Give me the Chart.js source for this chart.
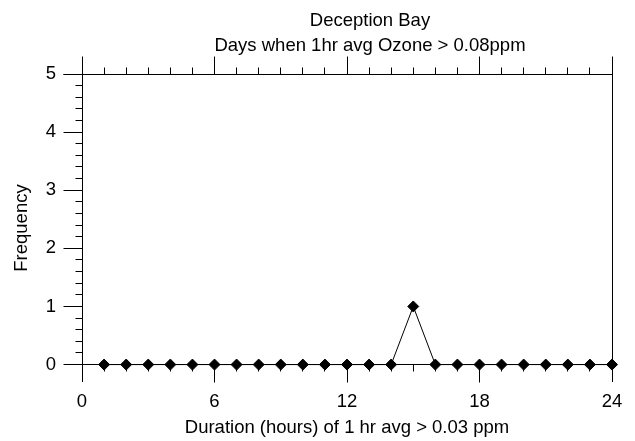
<!DOCTYPE html>
<html>
<head>
<meta charset="utf-8">
<script src="https://cdn.jsdelivr.net/npm/chart.js@4"></script>
<style>
  body { margin: 0; background: #fff; }
</style>
</head>
<body>
<canvas id="grafico" width="635" height="441"></canvas>
<script>
/* Datos */
var titulos = ['Deception Bay', 'Days when 1hr avg Ozone > 0.08ppm'];
var duracion = [1, 2, 3, 4, 5, 6, 7, 8, 9, 10, 11, 12, 13, 14, 15, 16, 17, 18, 19, 20, 21, 22, 23, 24];
var frecuencia = [0, 0, 0, 0, 0, 0, 0, 0, 0, 0, 0, 0, 0, 0, 1, 0, 0, 0, 0, 0, 0, 0, 0, 0];
var ticksX = [0, 6, 12, 18, 24];
var ticksY = [0, 1, 2, 3, 4, 5];

var fuente = '"Liberation Sans", Arial, sans-serif';
Chart.defaults.font.family = fuente;
Chart.defaults.font.size = 18.5;
Chart.defaults.color = '#000';

/* media linea para que las rayas de 1px salgan nitidas */
function px(v) { return Math.round(v - 0.5) + 0.5; }

/* Marco con las rayas de escala hacia afuera, el eje x va en y = 0 */
var marcoEjes = {
    id: 'marcoEjes',
    beforeDatasetsDraw: function (chart) {
        var ctx = chart.ctx;
        var a = chart.chartArea;
        var x = chart.scales.x;
        var y = chart.scales.y;
        var mayor = 18, menor = 7;
        var izq = px(a.left), der = px(a.right), arriba = px(a.top);
        var cero = px(y.getPixelForValue(0));

        ctx.save();
        ctx.strokeStyle = '#000';
        ctx.lineWidth = 1;
        ctx.beginPath();
        [izq, der].forEach(function (p) {
            ctx.moveTo(p, arriba - mayor);
            ctx.lineTo(p, a.bottom);
        });
        [arriba, cero].forEach(function (p) {
            ctx.moveTo(izq - mayor - 1, p);
            ctx.lineTo(der, p);
        });
        for (var v = 1; v < 24; v++) {
            var pxX = px(x.getPixelForValue(v));
            var largo = v % 6 === 0 ? mayor : menor;
            ctx.moveTo(pxX, arriba);
            ctx.lineTo(pxX, arriba - largo);
            ctx.moveTo(pxX, cero);
            ctx.lineTo(pxX, cero + largo);
        }
        for (var i = 1; i <= 25; i++) {
            var pxY = px(y.getPixelForValue(i / 5));
            var l = i % 5 === 0 ? mayor + 1 : menor;
            ctx.moveTo(izq, pxY);
            ctx.lineTo(izq - l, pxY);
        }
        ctx.stroke();
        ctx.restore();
    }
};

/* Titulo de dos lineas */
var cabecera = {
    id: 'cabecera',
    afterDraw: function (chart) {
        var ctx = chart.ctx;
        ctx.save();
        ctx.fillStyle = '#000';
        ctx.font = '18.5px ' + fuente;
        ctx.textAlign = 'center';
        ctx.textBaseline = 'middle';
        titulos.forEach(function (t, i) {
            ctx.fillText(t, 370, 21 + i * 25);
        });
        ctx.restore();
    }
};

var marco = document.getElementById('grafico').getContext('2d');

var grafico = new Chart(marco, {
    type: 'line',
    data: {
        labels: duracion,
        datasets: [{
            data: duracion.map(function (d, i) { return { x: d, y: frecuencia[i] }; }),
            borderColor: '#000',
            borderWidth: 1,
            backgroundColor: '#000',
            pointStyle: 'rectRot',
            pointRadius: 5.5,
            pointBorderWidth: 1,
            pointBorderColor: '#000',
            pointBackgroundColor: '#000',
            tension: 0,
            clip: false
        }]
    },
    options: {
        responsive: false,
        animation: false,
        layout: { padding: { left: 0, right: 23, top: 74, bottom: 0 } },
        plugins: {
            legend: { display: false },
            tooltip: { enabled: false }
        },
        scales: {
            x: {
                type: 'linear',
                min: 0,
                max: 24,
                grid: { display: false, drawTicks: false },
                border: { display: false },
                afterBuildTicks: function (eje) {
                    eje.ticks = ticksX.map(function (v) { return { value: v }; });
                },
                afterFit: function (eje) { eje.height = 59; },
                ticks: { padding: 9, maxRotation: 0 },
                title: {
                    display: true,
                    text: 'Duration (hours) of 1 hr avg > 0.03 ppm',
                    padding: { top: 0, bottom: 2 }
                }
            },
            y: {
                min: -0.3,
                max: 5,
                grid: { display: false, drawTicks: false },
                border: { display: false },
                afterBuildTicks: function (eje) {
                    eje.ticks = ticksY.map(function (v) { return { value: v }; });
                },
                afterFit: function (eje) { eje.width = 82; },
                ticks: { padding: 26 },
                title: {
                    display: true,
                    text: 'Frequency',
                    padding: { top: 11, bottom: 0 }
                }
            }
        }
    },
    plugins: [marcoEjes, cabecera]
});
</script>
</body>
</html>
